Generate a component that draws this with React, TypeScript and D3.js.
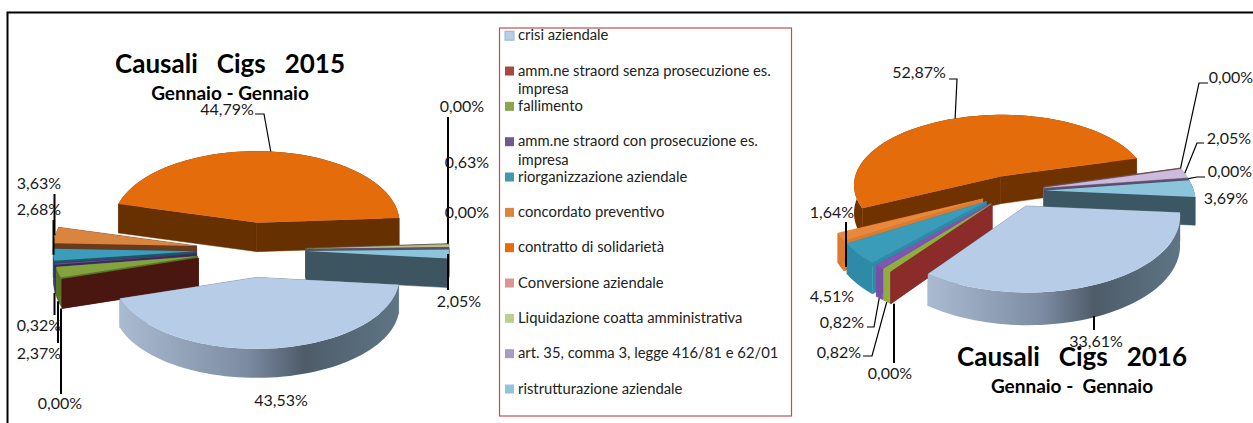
import React, { useEffect, useRef } from 'react'
import * as d3 from 'd3'

const categories = [
  'crisi aziendale',
  'amm.ne straord senza prosecuzione es. impresa',
  'fallimento',
  'amm.ne straord con prosecuzione es. impresa',
  'riorganizzazione aziendale',
  'concordato preventivo',
  'contratto di solidarietà',
  'Conversione aziendale',
  'Liquidazione coatta amministrativa',
  'art. 35, comma 3, legge 416/81 e 62/01',
  'ristrutturazione aziendale',
]
const values2015 = [43.53, 0.0, 2.37, 0.32, 2.68, 3.63, 44.79, 0.0, 0.63, 0.0, 2.05]
const values2016 = [33.61, 0.0, 0.82, 0.82, 4.51, 1.64, 52.87, 0.0, 2.05, 0.0, 3.69]

const legendColors = ['#B9CDE5', '#AA4643', '#89A54E', '#71588F', '#4198AF', '#DB843D', '#E46C0A', '#D99694', '#BBD08F', '#AB9BC3', '#92C5D9']
const top2015 = ['#B7CCE6', '#AA4643', '#83A33F', '#6A4A9A', '#3C9CBB', '#D9843F', '#E46C0A', '#D99694', '#B5BE8A', '#AB9BC3', '#8CC4DC']
const wall2015 = ['url(#rim-a)', '#4A1610', '#5B7228', '#3A2A5A', '#1F5566', '#6A3A1A', '#663000', '#6E4A48', '#6F7F50', '#5A4F6C', '#3D5560']
const top2016 = ['#B7CCE6', '#AA4643', '#8FAE3F', '#7E57B0', '#3A9CB8', '#E8883C', '#E46C0A', '#D99694', '#CDBBDD', '#AB9BC3', '#8CC4DC']
const wall2016 = ['url(#rim-b)', '#8B2C2A', '#8FAE3F', '#7850A8', '#2E8BA8', '#DC7A30', '#703300', '#6E4A48', '#8A7CA0', '#5A4F6C', '#3B5763']

const rimStops = [
  [0, '#AABBD1'],
  [0.45, '#7D8CA3'],
  [0.66, '#4E5C69'],
  [1, '#5E7585'],
]

// rough layout of the two pies, label spots and leader elbows
const chart2015 = {
  cx: 251, cy: 250, r: 143, tilt: 0.5, persp: 0, depth: 29, explode: 55, first: 96,
  title: 'Causali   Cigs   2015', titleX: 230, titleY: 73,
  sub: 'Gennaio - Gennaio', subX: 230, subY: 100,
  values: values2015, top: top2015, wall: wall2015,
  labels: [[281, 401], [60, 404], [39, 354], [39, 326], [39, 210], [39, 184], [227, 110], [462, 107], [467, 163], [467, 213], [459, 302]],
  leaders: [
    null,
    { pts: [[61, 394]], w: 2, v: true, end: 'bottom' },
    { pts: [[58, 343]], w: 2, v: true, end: 'bottom' },
    { pts: [[54.5, 315]], w: 2, v: true, end: 'bottom' },
    { pts: [[53.5, 220]], w: 2, v: true, end: 'top' },
    { pts: [[54.5, 194]], w: 2, v: true, end: 'top' },
    { pts: [[255, 114], [264, 114]], w: 1.2, v: false, end: 'top' },
    { pts: [[448, 117]], w: 2, v: true, end: 'top' },
    null,
    null,
    { pts: [[448, 290]], w: 2, v: true, end: 'top' },
  ],
}

const chart2016 = {
  cx: 1012, cy: 191, r: 149, tilt: 0.485, persp: 0.12, depth: 28, explode: 33, first: 95,
  title: 'Causali   Cigs   2016', titleX: 1072, titleY: 366,
  sub: 'Gennaio -  Gennaio', subX: 1072, subY: 393,
  values: values2016, top: top2016, wall: wall2016,
  labels: [[1096, 342], [890, 374], [839, 353], [842, 323], [832, 297], [832, 213], [919, 73], [1231, 78], [1229, 139], [1230, 172], [1226, 199]],
  leaders: [
    { pts: [[1094, 330]], w: 2, v: true, end: 'bottom' },
    { pts: [[894, 363]], w: 2, v: true, end: 'bottom' },
    { pts: [[863, 356], [872, 356]], w: 1.2, v: false, end: 'bottom' },
    { pts: [[867, 327], [874, 327]], w: 1.2, v: false, end: 'bottom' },
    null,
    { pts: [[846, 222]], w: 2, v: true, end: 'bottom' },
    { pts: [[949, 79], [957, 79]], w: 1.2, v: false, end: 'top' },
    { pts: [[1208, 83], [1199, 83]], w: 1.2, v: false, end: 'top' },
    { pts: [[1204, 143], [1197, 143]], w: 1.2, v: false, end: 'top' },
    { pts: [[1205, 177], [1197, 177]], w: 1.2, v: false, end: 'top' },
    null,
  ],
}

const FONT = 'Lato, "Open Sans", sans-serif'
const pct = d3.formatLocale({ decimal: ',', thousands: '.', grouping: [3], currency: ['', ''] }).format('.2f')

const drawPie = (svg: any, c: any) => {
  const first = (c.first * Math.PI) / 180
  const arcs = d3.pie<number>().sort(null).startAngle(first).endAngle(first + 2 * Math.PI).value((d) => d)(c.values)

  const project = (a: number, rad: number, mid: number, z: number) => {
    const px = Math.sin(mid) * c.explode + Math.sin(a) * rad
    const py = -Math.cos(mid) * c.explode - Math.cos(a) * rad
    const s = 1 / (1 - (c.persp * py) / c.r)
    return [c.cx + px * s, c.cy + py * c.tilt * s + z * s] as [number, number]
  }
  const line = d3.line()

  const slices = arcs
    .map((d: any) => ({ ...d, mid: (d.startAngle + d.endAngle) / 2 }))
    .sort((a: any, b: any) => -Math.cos(a.mid) - -Math.cos(b.mid) || a.index - b.index)

  const g = svg.append('g')
  slices.forEach((d: any) => {
    const steps = d3.range(0, 61).map((i) => d.startAngle + ((d.endAngle - d.startAngle) * i) / 60)
    const rimTop = steps.map((a) => project(a, c.r, d.mid, 0))
    const rimLow = steps.map((a) => project(a, c.r, d.mid, c.depth))
    const apexTop = project(d.mid, 0, d.mid, 0)
    const apexLow = project(d.mid, 0, d.mid, c.depth)
    const fill = c.wall[d.index]
    const flat = c.wall[d.index].startsWith('url') ? '#6B7A8C' : c.wall[d.index]

    // the two cut faces
    ;[d.startAngle, d.endAngle].forEach((a: number) => {
      g.append('path')
        .attr('d', line([apexTop, project(a, c.r, d.mid, 0), project(a, c.r, d.mid, c.depth), apexLow]) + 'Z')
        .attr('fill', flat)
        .attr('stroke', flat)
        .attr('stroke-width', 0.5)
    })
    if (d.endAngle > d.startAngle) {
      g.append('path')
        .attr('d', line([...rimTop, ...rimLow.slice().reverse()]) + 'Z')
        .attr('fill', fill)
      g.append('path')
        .attr('d', line([apexTop, ...rimTop]) + 'Z')
        .attr('fill', c.top[d.index])
    }
  })

  // leaders run from the label side to the slice's outer edge
  arcs.forEach((d: any) => {
    const l = c.leaders[d.index]
    if (!l) return
    const mid = (d.startAngle + d.endAngle) / 2
    const tip = project(mid, c.r, mid, l.end === 'bottom' ? c.depth : 0)
    const pts = l.v ? [l.pts[0], [l.pts[0][0], tip[1]]] : [...l.pts, tip]
    svg.append('path')
      .attr('d', line(pts as any))
      .attr('fill', 'none')
      .attr('stroke', '#000')
      .attr('stroke-width', l.w)
  })

  svg.append('g')
    .selectAll('text')
    .data(arcs)
    .join('text')
    .attr('x', (d: any) => c.labels[d.index][0])
    .attr('y', (d: any) => c.labels[d.index][1] + 5)
    .attr('text-anchor', 'middle')
    .attr('font-family', FONT)
    .attr('font-size', 16)
    .attr('fill', '#1a1a1a')
    .text((d: any) => `${pct(d.data)}%`)

  svg.append('text')
    .attr('x', c.titleX)
    .attr('y', c.titleY)
    .attr('text-anchor', 'middle')
    .attr('font-family', FONT)
    .attr('font-weight', 700)
    .attr('font-size', 26)
    .style('white-space', 'pre')
    .text(c.title)
  svg.append('text')
    .attr('x', c.subX)
    .attr('y', c.subY)
    .attr('text-anchor', 'middle')
    .attr('font-family', FONT)
    .attr('font-weight', 700)
    .attr('font-size', 19)
    .style('white-space', 'pre')
    .text(c.sub)
}

const wrapLegend = (name: string) => {
  const cut = name.indexOf(' impresa')
  return cut > 0 ? [name.slice(0, cut), 'impresa'] : [name]
}

export default function App() {
  const ref = useRef<SVGSVGElement>(null)

  useEffect(() => {
    const svg = d3.select(ref.current)
    svg.selectAll('*').remove()

    const defs = svg.append('defs')
    ;['rim-a', 'rim-b'].forEach((id) => {
      defs.append('linearGradient')
        .attr('id', id)
        .selectAll('stop')
        .data(rimStops)
        .join('stop')
        .attr('offset', (d: any) => d[0])
        .attr('stop-color', (d: any) => d[1])
    })

    svg.append('path')
      .attr('d', 'M7.5,423V12.5H1253')
      .attr('fill', 'none')
      .attr('stroke', '#000')
      .attr('stroke-width', 2)

    drawPie(svg, chart2015)
    drawPie(svg, chart2016)

    // legend
    svg.append('rect')
      .attr('x', 499.5)
      .attr('y', 28)
      .attr('width', 292)
      .attr('height', 388)
      .attr('fill', 'none')
      .attr('stroke', '#C0504D')
      .attr('stroke-width', 1.2)

    const rowY = d3.scalePoint<string>().domain(categories).range([35.7, 389])
    const rows = svg.append('g')
      .selectAll('g')
      .data(categories)
      .join('g')
      .attr('transform', (d: string) => `translate(505,${rowY(d)})`)
    rows.append('rect')
      .attr('y', -4.5)
      .attr('width', 9)
      .attr('height', 9)
      .attr('fill', (_: string, i: number) => legendColors[i])
      .attr('stroke', (_: string, i: number) => (i === 0 ? '#95B3D7' : 'none'))
    rows.each(function (this: any, d: string) {
      wrapLegend(d).forEach((t, i) => {
        d3.select(this)
          .append('text')
          .attr('x', 13)
          .attr('y', 4.5 + i * 18.8)
          .attr('font-family', FONT)
          .attr('font-size', 14.8)
          .attr('fill', '#222')
          .text(t)
      })
    })
  }, [])

  return (
    <svg
      ref={ref}
      width={1253}
      height={423}
      style={{ position: 'absolute', left: 0, top: 0, background: '#fff' }}
    />
  )
}
